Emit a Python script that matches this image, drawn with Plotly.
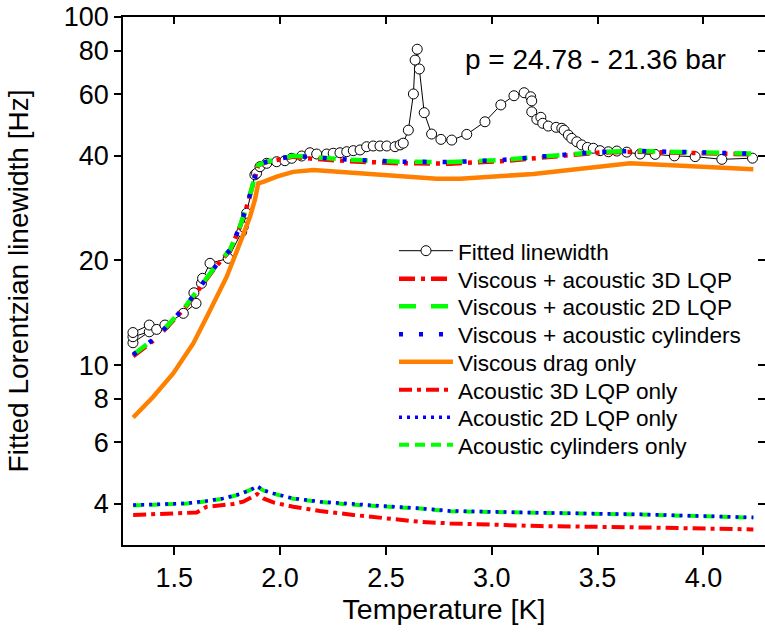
import plotly.graph_objects as go

# ---- Data ----
T_fit = [1.305, 1.382, 1.305, 1.305, 1.382, 1.417, 1.456, 1.543, 1.603, 1.593, 1.629, 1.634, 1.669,
         1.755, 1.819, 1.826, 1.842, 1.881, 1.889, 1.905, 1.937, 1.984, 2.023, 2.055, 2.102, 2.141,
         2.173, 2.220, 2.251, 2.283, 2.315, 2.346, 2.378, 2.409, 2.440, 2.472, 2.504, 2.543, 2.567,
         2.582, 2.606, 2.630, 2.638, 2.648, 2.658, 2.681, 2.716, 2.760, 2.811, 2.882, 2.968, 3.043,
         3.105, 3.153, 3.184, 3.189, 3.189, 3.213, 3.232, 3.241, 3.267, 3.304, 3.331, 3.342, 3.362,
         3.378, 3.402, 3.425, 3.452, 3.480, 3.512, 3.551, 3.591, 3.638, 3.701, 3.772, 3.863, 3.961,
         4.087, 4.232]
W_fit = [11.59, 12.46, 12.06, 12.4, 13.03, 12.66, 13.03, 14.08, 15.04, 16.13, 17.17, 17.75, 19.6,
         20.26, 24.15, 24.97, 27.3, 35.2, 35.55, 37.14, 37.99, 38.39, 38.65, 39.27, 39.87, 40.74,
         40.4, 40.4, 40.6, 40.74, 41.02, 41.3, 41.5, 42.4, 42.6, 42.6, 42.6, 42.4, 42.9,
         43.4, 47.3, 60.1, 75.2, 80.8, 70.9, 53.1, 46.1, 44.5, 44.3, 46.0, 50.0, 55.9,
         59.4, 60.6, 59.0, 57.4, 53.4, 50.8, 51.5, 49.5, 48.6, 48.2, 47.9, 47.3, 45.8,
         44.8, 43.8, 42.9, 42.2, 41.96, 41.3, 41.0, 41.2, 40.9, 40.4, 40.3, 39.9, 39.7,
         39.0, 39.3]

T_comb = [1.306, 1.401, None, 1.448, 1.559, 1.629, 1.700, 1.763, 1.810, 1.842, 1.866, 1.881, 1.897,
          1.937, 1.984, 2.062, 2.141, 2.330, 2.567, 2.803, 3.039, 3.228, 3.323, 3.512, 3.701,
          3.985, 4.230]
W_visc_3d = [10.6, 11.75, None, 12.5, 14.8, 16.9, 19.3, 21.3, 24.9, 28.4, 32.1, 35.1, 37.5,
             38.3, 38.9, 39.7, 39.2, 38.5, 38.0, 37.9, 38.5, 39.4, 40.0, 40.8, 41.0, 40.7, 40.3]
W_visc_2d = [10.7, 11.85, None, 12.6, 14.9, 17.0, 19.4, 21.4, 25.0, 28.5, 32.2, 35.2, 37.6,
             38.4, 39.0, 39.9, 39.6, 38.9, 38.4, 38.3, 38.8, 39.7, 40.3, 41.0, 41.2, 40.9, 40.5]
W_visc_cyl = [10.7, 11.85, None, 12.6, 14.9, 17.0, 19.4, 21.4, 25.0, 28.5, 32.2, 35.2, 37.6,
              38.4, 39.0, 39.9, 39.6, 38.9, 38.4, 38.3, 38.8, 39.7, 40.3, 41.0, 41.2, 40.9, 40.5]

T_visc = [1.306, 1.401, 1.495, 1.590, 1.660, 1.748, 1.810, 1.858, 1.881, 1.897, 1.921, 1.984,
          2.062, 2.157, 2.425, 2.740, 2.850, 3.197, 3.654, 4.236]
W_visc = [7.07, 8.11, 9.46, 11.54, 14.0, 17.94, 22.37, 26.68, 29.8, 33.3, 33.6, 34.8,
          35.9, 36.33, 35.4, 34.3, 34.3, 35.4, 38.0, 36.5]

T_ac_3d = [1.306, 1.606, 1.653, 1.779, 1.826, 1.866, 1.892, 1.921, 1.968, 2.062, 2.189, 2.346,
           2.504, 2.661, 2.803, 3.228, 3.701, 4.236]
W_ac_3d = [3.71, 3.77, 3.915, 3.99, 4.05, 4.18, 4.26, 4.14, 4.03, 3.915, 3.81, 3.71,
           3.616, 3.545, 3.508, 3.446, 3.416, 3.372]

T_ac = [1.306, 1.432, 1.559, 1.653, 1.732, 1.810, 1.858, 1.892, 1.921, 1.968, 2.062, 2.189,
        2.346, 2.504, 2.661, 2.803, 3.228, 3.701, 4.236]
W_ac_2d = [3.96, 3.98, 4.005, 4.07, 4.14, 4.26, 4.37, 4.49, 4.37, 4.28, 4.14, 4.05,
           3.98, 3.93, 3.875, 3.81, 3.764, 3.724, 3.65]
W_ac_cyl = [3.95, 3.97, 4.0, 4.06, 4.13, 4.25, 4.36, 4.47, 4.36, 4.27, 4.13, 4.04,
            3.97, 3.92, 3.87, 3.80, 3.76, 3.72, 3.645]

x_ticks = [1.5, 2.0, 2.5, 3.0, 3.5, 4.0]
x_tick_text = ["1.5", "2.0", "2.5", "3.0", "3.5", "4.0"]
y_ticks = [4, 6, 8, 10, 20, 40, 60, 80, 100]
y_tick_text = ["4", "6", "8", "10", "20", "40", "60", "80", "100"]

RED, GREEN, BLUE, ORANGE = "#ff0000", "#00ff00", "#0000ff", "#ff8000"
FONT = "Liberation Sans, Arial, Helvetica, sans-serif"

# Figure fills the whole 765x633 window (page body margin removed below);
# plot area at x 123..765, y 17..545.
W, H = 765, 633
L, T, R, B = 123, 17, 0, 88
PW, PH = W - L - R, H - T - B


def px_x(sx):
    return (sx - L) / PW


def px_y(sy):
    return (H - B - sy) / PH


legend_rows_px = [251, 279, 306.5, 334.5, 362, 390, 417.5, 445]
legend_left_px = 394

fig = go.Figure()
traces = [
    go.Scatter(x=T_fit, y=W_fit, mode="lines+markers", name="Fitted linewidth",
               line=dict(color="black", width=1),
               marker=dict(symbol="circle", size=10, color="white",
                           line=dict(color="black", width=1))),
    go.Scatter(x=T_comb, y=W_visc_3d, mode="lines", name="Viscous + acoustic 3D LQP",
               line=dict(color=RED, width=4.5, dash="16px,6px,4px,6px")),
    go.Scatter(x=T_comb, y=W_visc_2d, mode="lines", name="Viscous + acoustic 2D LQP",
               line=dict(color=GREEN, width=4.5, dash="17px,15px")),
    go.Scatter(x=T_comb, y=W_visc_cyl, mode="lines", name="Viscous + acoustic cylinders",
               line=dict(color=BLUE, width=4.5, dash="4px,16px")),
    go.Scatter(x=T_visc, y=W_visc, mode="lines", name="Viscous drag only",
               line=dict(color=ORANGE, width=4.5)),
    go.Scatter(x=T_ac_3d, y=W_ac_3d, mode="lines", name="Acoustic 3D LQP only",
               line=dict(color=RED, width=4, dash="13px,5px,4px,5px")),
    go.Scatter(x=T_ac, y=W_ac_2d, mode="lines", name="Acoustic 2D LQP only",
               line=dict(color=BLUE, width=3.5, dash="3px,5px")),
    go.Scatter(x=T_ac, y=W_ac_cyl, mode="lines", name="Acoustic cylinders only",
               line=dict(color=GREEN, width=4, dash="10px,6px")),
]
draw_order = [0, 1, 2, 3, 4, 5, 7, 6]
legend_layout = {}
for i in draw_order:
    tr = traces[i]
    tr.legend = "legend" if i == 0 else f"legend{i + 1}"
    fig.add_trace(tr)
for i in range(8):
    lname = "legend" if i == 0 else f"legend{i + 1}"
    legend_layout[lname] = dict(
        x=px_x(legend_left_px), y=px_y(legend_rows_px[i]),
        xanchor="left", yanchor="middle", bgcolor="rgba(0,0,0,0)",
        font=dict(size=22.6, family=FONT, color="black"), itemwidth=54)

# invisible trace for mirrored top / right ticks
fig.add_trace(go.Scatter(x=[x_ticks[0]], y=[y_ticks[0]], xaxis="x2", yaxis="y2",
                         mode="markers", marker=dict(opacity=0), showlegend=False,
                         hoverinfo="skip"))

xr = [1.258, 4.291]
yr = [0.483, 2.0]

fig.update_layout(
    width=W, height=H,
    margin=dict(l=L, r=R, t=T, b=B, autoexpand=False),
    plot_bgcolor="white", paper_bgcolor="white",
    font=dict(family=FONT, size=26, color="black"),
    showlegend=True,
    xaxis=dict(range=xr, tickvals=x_ticks, ticktext=x_tick_text, showline=True,
               linecolor="black", linewidth=1.5, mirror=True, ticks="outside",
               ticklen=8, tickwidth=1.5, tickcolor="black", showgrid=False, zeroline=False,
               automargin=False, ticklabeloverflow="allow",
               title=dict(text="Temperature [K]", standoff=6, font=dict(size=28.5)),
               tickfont=dict(size=27)),
    yaxis=dict(type="log", range=yr, tickvals=y_ticks, ticktext=y_tick_text, showline=True,
               linecolor="black", linewidth=1.5, mirror=False, ticks="outside",
               ticklen=7, tickwidth=1.5, tickcolor="black", showgrid=False, zeroline=False,
               automargin=False, ticklabeloverflow="allow",
               title=dict(text="Fitted Lorentzian linewidth [Hz]", standoff=27,
                          font=dict(size=28)),
               tickfont=dict(size=27)),
    xaxis2=dict(range=xr, overlaying="x", side="top", tickvals=x_ticks, showticklabels=False,
                ticks="inside", ticklen=7, tickwidth=1.5, tickcolor="black", showline=False,
                showgrid=False, zeroline=False, automargin=False),
    yaxis2=dict(type="log", range=yr, overlaying="y", side="right", tickvals=y_ticks,
                showticklabels=False, ticks="inside", ticklen=7, tickwidth=1.5,
                tickcolor="black", showline=False, showgrid=False, zeroline=False,
                automargin=False),
    annotations=[dict(text="p = 24.78 - 21.36 bar", x=px_x(595), y=px_y(60),
                      xref="paper", yref="paper", xanchor="center", yanchor="middle",
                      showarrow=False, font=dict(size=28, family=FONT))],
    **legend_layout,
)

fig.write_html("out.html", config={"displayModeBar": False},
               post_script="document.body.style.margin='0';document.body.style.overflow='hidden';")
